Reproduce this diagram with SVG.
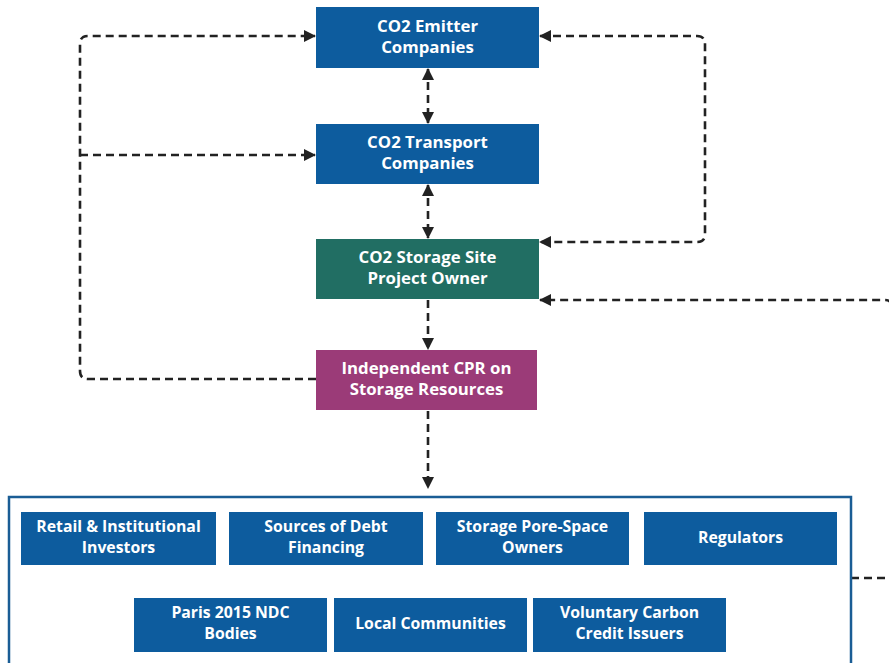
<svg xmlns="http://www.w3.org/2000/svg" width="889" height="663" viewBox="0 0 889 663">
<defs>
<style>
.t{font-family:"Open Sans","Liberation Sans",sans-serif;font-weight:700;fill:#fff;text-anchor:middle;}
.big{font-size:16.8px;}
.sm{font-size:15.8px;}
.c{fill:none;stroke:#222;stroke-width:2.6;stroke-dasharray:8 5;}
.blue{fill:#0d5c9e;}
</style>
<marker id="ah" viewBox="0 0 12 12" refX="11" refY="6" markerWidth="12" markerHeight="12" markerUnits="userSpaceOnUse" orient="auto-start-reverse">
<path d="M0,0 L12,6 L0,12 z" fill="#222"/>
</marker>
</defs>
<rect width="889" height="663" fill="#fff"/>

<g id="connectors">
<path class="c" d="M316 379 H88 Q80 379 80 371 V44 Q80 36 88 36 H315" marker-end="url(#ah)"/>
<path class="c" d="M80 155 H315" marker-end="url(#ah)"/>
<path class="c" d="M540 36 H697 Q705 36 705 44 V234 Q705 242 697 242 H540" marker-start="url(#ah)" marker-end="url(#ah)"/>
<path class="c" d="M851 578 H885 Q892 578 892 571 V307 Q892 300 885 300 H540" marker-end="url(#ah)"/>
<path class="c" d="M428 69 V123" marker-start="url(#ah)" marker-end="url(#ah)"/>
<path class="c" d="M428 185 V238" marker-start="url(#ah)" marker-end="url(#ah)"/>
<path class="c" d="M428 300 V349" marker-end="url(#ah)"/>
<path class="c" d="M428 411 V488" marker-end="url(#ah)"/>
</g>

<g id="emitter">
<rect class="blue" x="316" y="7" width="223" height="61"/>
<text class="t big" x="427.5" y="32">CO2 Emitter</text>
<text class="t big" x="427.5" y="53">Companies</text>
</g>
<g id="transport">
<rect class="blue" x="316" y="124" width="223" height="60"/>
<text class="t big" x="427.5" y="148">CO2 Transport</text>
<text class="t big" x="427.5" y="169">Companies</text>
</g>
<g id="storage">
<rect fill="#216e63" x="316" y="239" width="223" height="60"/>
<text class="t big" x="427.5" y="263">CO2 Storage Site</text>
<text class="t big" x="427.5" y="284">Project Owner</text>
</g>
<g id="cpr">
<rect fill="#9b3b78" x="316" y="350" width="221" height="60"/>
<text class="t big" x="426.5" y="374">Independent CPR on</text>
<text class="t big" x="426.5" y="395">Storage Resources</text>
</g>

<g id="stakeholders">
<rect x="9" y="497" width="842" height="170" fill="#fff" stroke="#1a5d95" stroke-width="2.5"/>
</g>
<g id="retail">
<rect class="blue" x="21" y="512" width="195" height="53"/>
<text class="t sm" x="118.5" y="532">Retail &amp; Institutional</text>
<text class="t sm" x="118.5" y="553">Investors</text>
</g>
<g id="debt">
<rect class="blue" x="229" y="512" width="194" height="53"/>
<text class="t sm" x="326" y="532">Sources of Debt</text>
<text class="t sm" x="326" y="553">Financing</text>
</g>
<g id="porespace">
<rect class="blue" x="436" y="512" width="193" height="53"/>
<text class="t sm" x="532.5" y="532">Storage Pore-Space</text>
<text class="t sm" x="532.5" y="553">Owners</text>
</g>
<g id="regulators">
<rect class="blue" x="644" y="512" width="193" height="53"/>
<text class="t sm" x="740.5" y="543">Regulators</text>
</g>
<g id="paris">
<rect class="blue" x="134" y="598" width="193" height="54"/>
<text class="t sm" x="230.5" y="618">Paris 2015 NDC</text>
<text class="t sm" x="230.5" y="639">Bodies</text>
</g>
<g id="local">
<rect class="blue" x="334" y="598" width="193" height="54"/>
<text class="t sm" x="430.5" y="629">Local Communities</text>
</g>
<g id="voluntary">
<rect class="blue" x="533" y="598" width="193" height="54"/>
<text class="t sm" x="629.5" y="618">Voluntary Carbon</text>
<text class="t sm" x="629.5" y="639">Credit Issuers</text>
</g>
</svg>
